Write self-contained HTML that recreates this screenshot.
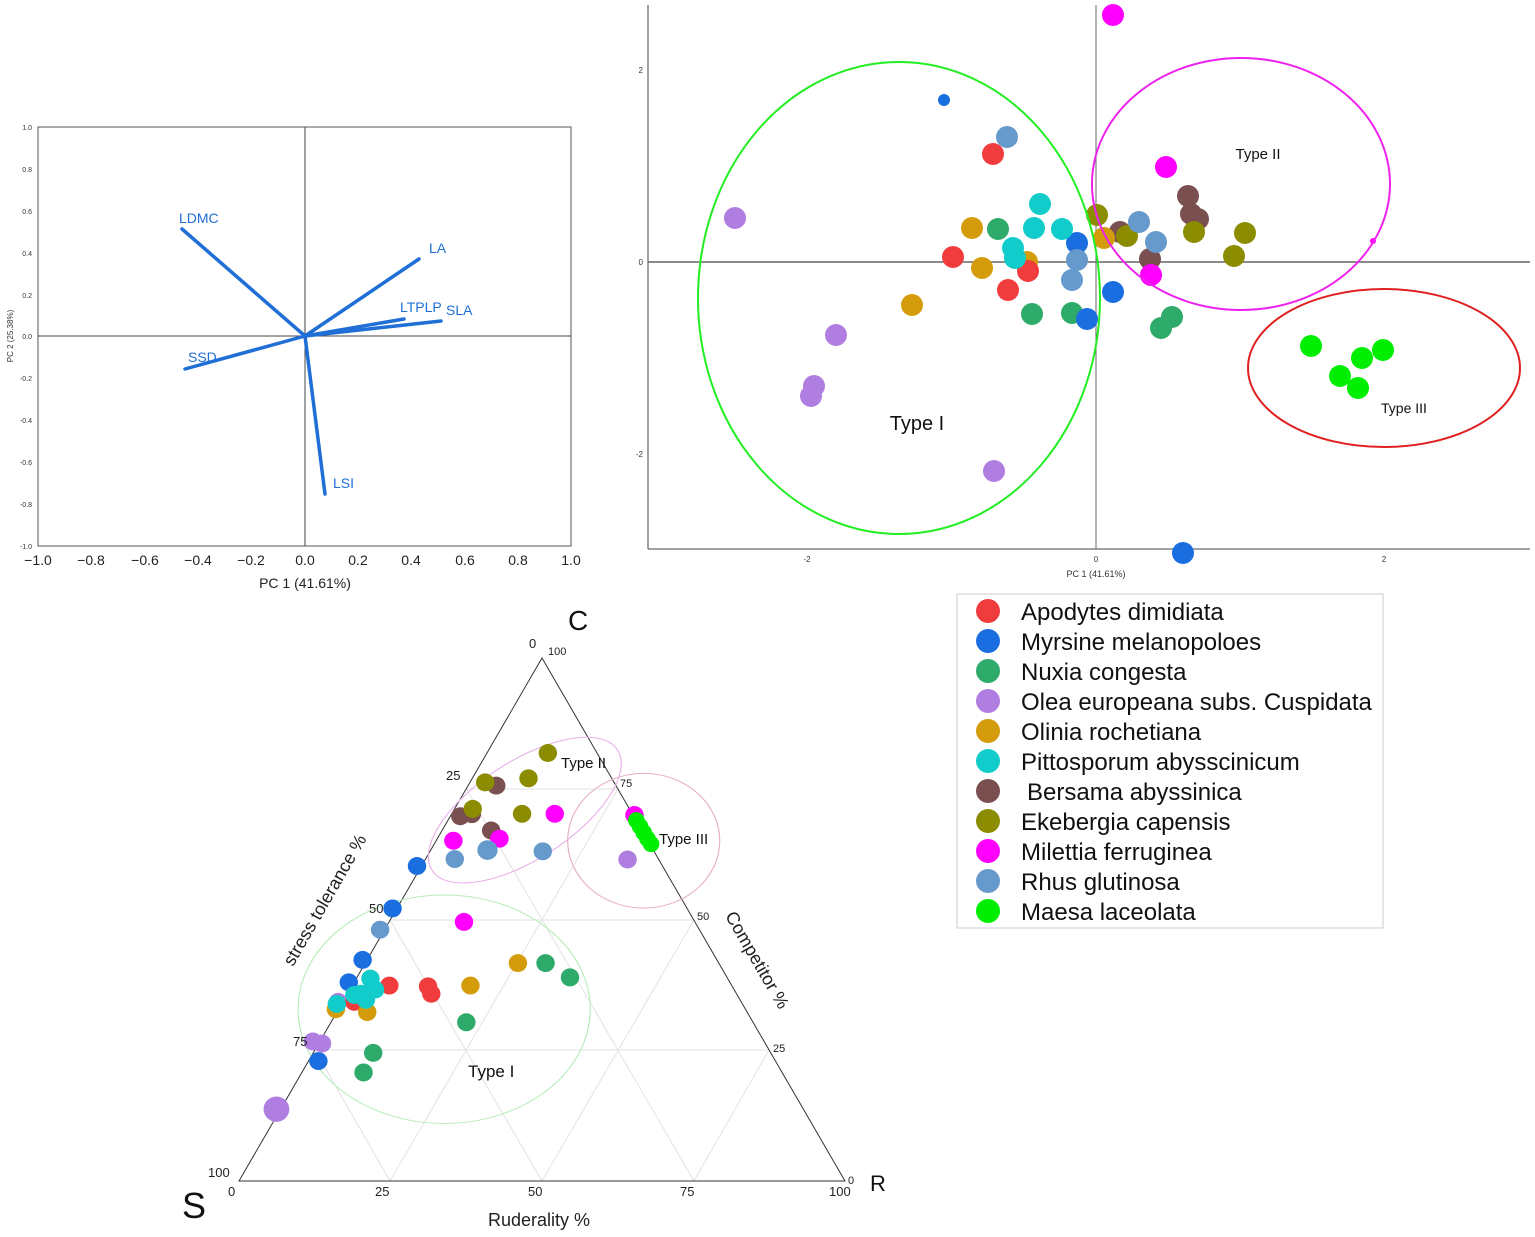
<!DOCTYPE html>
<html><head><meta charset="utf-8"><style>
html,body{margin:0;padding:0;background:#fff;}
svg{display:block;font-family:"Liberation Sans",Arial,sans-serif;}
</style></head><body>
<svg width="1535" height="1237" viewBox="0 0 1535 1237" xmlns="http://www.w3.org/2000/svg">
<g>
<rect x="38" y="127" width="533" height="419" fill="none" stroke="#555" stroke-width="1"/>
<line x1="38" y1="336" x2="571" y2="336" stroke="#444" stroke-width="1"/>
<line x1="305" y1="127" x2="305" y2="546" stroke="#444" stroke-width="1"/>
<g font-size="7" fill="#333" text-anchor="end">
<text x="32" y="130">1.0</text><text x="32" y="172">0.8</text><text x="32" y="214">0.6</text><text x="32" y="256">0.4</text><text x="32" y="298">0.2</text><text x="32" y="339">0.0</text><text x="32" y="381">-0.2</text><text x="32" y="423">-0.4</text><text x="32" y="465">-0.6</text><text x="32" y="507">-0.8</text><text x="32" y="549">-1.0</text>
</g>
<g font-size="14" fill="#222" text-anchor="middle">
<text x="38" y="565">−1.0</text><text x="91" y="565">−0.8</text><text x="145" y="565">−0.6</text><text x="198" y="565">−0.4</text><text x="251" y="565">−0.2</text><text x="305" y="565">0.0</text><text x="358" y="565">0.2</text><text x="411" y="565">0.4</text><text x="465" y="565">0.6</text><text x="518" y="565">0.8</text><text x="571" y="565">1.0</text>
</g>
<text x="305" y="588" font-size="14" fill="#222" text-anchor="middle">PC 1 (41.61%)</text>
<text transform="translate(13,336) rotate(-90)" font-size="8" fill="#333" text-anchor="middle">PC 2 (25.38%)</text>
<g stroke="#1f6fd6" stroke-width="3.5" stroke-linecap="round">
<line x1="305" y1="336" x2="182" y2="229"/>
<line x1="305" y1="336" x2="419" y2="259"/>
<line x1="305" y1="336" x2="404" y2="319"/>
<line x1="305" y1="336" x2="441" y2="321"/>
<line x1="305" y1="336" x2="185" y2="369"/>
<line x1="305" y1="336" x2="325" y2="494"/>
</g>
<g font-size="14" fill="#1f6fd6">
<text x="179" y="223">LDMC</text><text x="429" y="253">LA</text><text x="400" y="312">LTPLP</text><text x="446" y="315">SLA</text><text x="188" y="362">SSD</text><text x="333" y="488">LSI</text>
</g>
</g>
<g>
<line x1="648" y1="5" x2="648" y2="549" stroke="#444"/>
<line x1="648" y1="549" x2="1530" y2="549" stroke="#444"/>
<line x1="1096" y1="5" x2="1096" y2="549" stroke="#666"/>
<line x1="648" y1="262" x2="1530" y2="262" stroke="#666" stroke-width="1.5"/>
<g font-size="8" fill="#333" text-anchor="end"><text x="643" y="73">2</text><text x="643" y="265">0</text><text x="643" y="457">-2</text></g>
<g font-size="8" fill="#333" text-anchor="middle"><text x="807" y="562">-2</text><text x="1096" y="562">0</text><text x="1384" y="562">2</text></g>
<text x="1096" y="577" font-size="9" fill="#333" text-anchor="middle">PC 1 (41.61%)</text>
<g>
<circle cx="1113" cy="15" r="11" fill="#ff00ff"/>
<circle cx="944" cy="100" r="6" fill="#1a6ee0"/>
<circle cx="1007" cy="137" r="11" fill="#6699cc"/>
<circle cx="993" cy="154" r="11" fill="#f03c3c"/>
<circle cx="1166" cy="167" r="11" fill="#ff00ff"/>
<circle cx="735" cy="218" r="11" fill="#b07ee0"/>
<circle cx="1188" cy="196" r="11" fill="#7a4f4f"/>
<circle cx="1191" cy="214" r="11" fill="#7a4f4f"/>
<circle cx="1198" cy="219" r="11" fill="#7a4f4f"/>
<circle cx="1120" cy="232" r="11" fill="#7a4f4f"/>
<circle cx="1150" cy="259" r="11" fill="#7a4f4f"/>
<circle cx="1097" cy="215" r="11" fill="#8c8c00"/>
<circle cx="1194" cy="232" r="11" fill="#8c8c00"/>
<circle cx="1245" cy="233" r="11" fill="#8c8c00"/>
<circle cx="1234" cy="256" r="11" fill="#8c8c00"/>
<circle cx="1127" cy="236" r="11" fill="#8c8c00"/>
<circle cx="1139" cy="222" r="11" fill="#6699cc"/>
<circle cx="1156" cy="242" r="11" fill="#6699cc"/>
<circle cx="972" cy="228" r="11" fill="#d49c0a"/>
<circle cx="1104" cy="238" r="11" fill="#d49c0a"/>
<circle cx="1027" cy="262" r="11" fill="#d49c0a"/>
<circle cx="982" cy="268" r="11" fill="#d49c0a"/>
<circle cx="912" cy="305" r="11" fill="#d49c0a"/>
<circle cx="998" cy="229" r="11" fill="#2eaa6a"/>
<circle cx="1032" cy="314" r="11" fill="#2eaa6a"/>
<circle cx="1072" cy="313" r="11" fill="#2eaa6a"/>
<circle cx="1161" cy="328" r="11" fill="#2eaa6a"/>
<circle cx="1172" cy="317" r="11" fill="#2eaa6a"/>
<circle cx="1077" cy="243" r="11" fill="#1a6ee0"/>
<circle cx="1113" cy="292" r="11" fill="#1a6ee0"/>
<circle cx="1087" cy="319" r="11" fill="#1a6ee0"/>
<circle cx="1183" cy="553" r="11" fill="#1a6ee0"/>
<circle cx="953" cy="257" r="11" fill="#f03c3c"/>
<circle cx="1028" cy="271" r="11" fill="#f03c3c"/>
<circle cx="1008" cy="290" r="11" fill="#f03c3c"/>
<circle cx="1077" cy="260" r="11" fill="#6699cc"/>
<circle cx="1072" cy="280" r="11" fill="#6699cc"/>
<circle cx="1040" cy="204" r="11" fill="#12cccc"/>
<circle cx="1034" cy="228" r="11" fill="#12cccc"/>
<circle cx="1062" cy="229" r="11" fill="#12cccc"/>
<circle cx="1013" cy="248" r="11" fill="#12cccc"/>
<circle cx="1015" cy="258" r="11" fill="#12cccc"/>
<circle cx="1151" cy="275" r="11" fill="#ff00ff"/>
<circle cx="1373" cy="241" r="3" fill="#ff00ff"/>
<circle cx="836" cy="335" r="11" fill="#b07ee0"/>
<circle cx="814" cy="386" r="11" fill="#b07ee0"/>
<circle cx="811" cy="396" r="11" fill="#b07ee0"/>
<circle cx="994" cy="471" r="11" fill="#b07ee0"/>
<circle cx="1311" cy="346" r="11" fill="#00ee00"/>
<circle cx="1362" cy="358" r="11" fill="#00ee00"/>
<circle cx="1383" cy="350" r="11" fill="#00ee00"/>
<circle cx="1340" cy="376" r="11" fill="#00ee00"/>
<circle cx="1358" cy="388" r="11" fill="#00ee00"/>
</g>
<ellipse cx="899" cy="298" rx="201" ry="236" fill="none" stroke="#22ee22" stroke-width="2"/>
<ellipse cx="1241" cy="184" rx="149" ry="126" fill="none" stroke="#ee22ee" stroke-width="2"/>
<ellipse cx="1384" cy="368" rx="136" ry="79" fill="none" stroke="#e02020" stroke-width="2"/>
<text x="917" y="430" font-size="20" fill="#111" text-anchor="middle">Type I</text>
<text x="1258" y="159" font-size="15" fill="#111" text-anchor="middle">Type II</text>
<text x="1404" y="413" font-size="14" fill="#111" text-anchor="middle">Type III</text>
</g>
<rect x="957" y="594" width="426" height="334" fill="#fff" stroke="#ccc"/>
<g font-size="24" fill="#111">
<circle cx="988" cy="611" r="12" fill="#f03c3c"/><text x="1021" y="620">Apodytes dimidiata</text>
<circle cx="988" cy="641" r="12" fill="#1a6ee0"/><text x="1021" y="650">Myrsine melanopoloes</text>
<circle cx="988" cy="671" r="12" fill="#2eaa6a"/><text x="1021" y="680">Nuxia congesta</text>
<circle cx="988" cy="701" r="12" fill="#b07ee0"/><text x="1021" y="710">Olea europeana subs. Cuspidata</text>
<circle cx="988" cy="731" r="12" fill="#d49c0a"/><text x="1021" y="740">Olinia rochetiana</text>
<circle cx="988" cy="761" r="12" fill="#12cccc"/><text x="1021" y="770">Pittosporum abysscinicum</text>
<circle cx="988" cy="791" r="12" fill="#7a4f4f"/><text x="1027" y="800">Bersama abyssinica</text>
<circle cx="988" cy="821" r="12" fill="#8c8c00"/><text x="1021" y="830">Ekebergia capensis</text>
<circle cx="988" cy="851" r="12" fill="#ff00ff"/><text x="1021" y="860">Milettia ferruginea</text>
<circle cx="988" cy="881" r="12" fill="#6699cc"/><text x="1021" y="890">Rhus glutinosa</text>
<circle cx="988" cy="911" r="12" fill="#00ee00"/><text x="1021" y="920">Maesa laceolata</text>
</g>
<g>
<g stroke="#e2e2e2" stroke-width="1">
<line x1="315" y1="1050" x2="769" y2="1050"/>
<line x1="390" y1="920" x2="694" y2="920"/>
<line x1="466" y1="789" x2="618" y2="789"/>
<line x1="390" y1="1181" x2="315" y2="1050"/><line x1="542" y1="1181" x2="390" y2="920"/><line x1="694" y1="1181" x2="466" y2="789"/>
<line x1="390" y1="1181" x2="618" y2="789"/><line x1="542" y1="1181" x2="694" y2="920"/><line x1="694" y1="1181" x2="769" y2="1050"/>
</g>
<polygon points="239,1181 845,1181 542,658" fill="none" stroke="#333" stroke-width="1"/>
<g transform="translate(170,600) scale(0.4608,0.408)">
<ellipse cx="770" cy="515" rx="250" ry="115" transform="rotate(-38 770 515)" fill="none" stroke="#e8b0e8" stroke-width="2.5"/>
<ellipse cx="1028" cy="590" rx="165" ry="165" fill="none" stroke="#e8b0c0" stroke-width="2.5"/>
<ellipse cx="595" cy="1003" rx="317" ry="280" fill="none" stroke="#b8ecb8" stroke-width="2.5"/>
<g>
<ellipse cx="820" cy="375" rx="20" ry="22" fill="#8c8c00"/>
<ellipse cx="778" cy="437" rx="20" ry="22" fill="#8c8c00"/>
<ellipse cx="708" cy="455" rx="20" ry="22" fill="#7a4f4f"/>
<ellipse cx="684" cy="447" rx="20" ry="22" fill="#8c8c00"/>
<ellipse cx="630" cy="530" rx="20" ry="22" fill="#7a4f4f"/>
<ellipse cx="655" cy="525" rx="20" ry="22" fill="#7a4f4f"/>
<ellipse cx="657" cy="512" rx="20" ry="22" fill="#8c8c00"/>
<ellipse cx="764" cy="524" rx="20" ry="22" fill="#8c8c00"/>
<ellipse cx="697" cy="565" rx="20" ry="22" fill="#7a4f4f"/>
<ellipse cx="835" cy="524" rx="20" ry="22" fill="#ff00ff"/>
<ellipse cx="715" cy="585" rx="20" ry="22" fill="#ff00ff"/>
<ellipse cx="615" cy="590" rx="20" ry="22" fill="#ff00ff"/>
<ellipse cx="638" cy="789" rx="20" ry="22" fill="#ff00ff"/>
<ellipse cx="1008" cy="527" rx="20" ry="22" fill="#ff00ff"/>
<ellipse cx="689" cy="613" rx="22" ry="24" fill="#6699cc"/>
<ellipse cx="618" cy="635" rx="20" ry="22" fill="#6699cc"/>
<ellipse cx="809" cy="616" rx="20" ry="22" fill="#6699cc"/>
<ellipse cx="456" cy="808" rx="20" ry="22" fill="#6699cc"/>
<ellipse cx="536" cy="652" rx="20" ry="22" fill="#1a6ee0"/>
<ellipse cx="483" cy="756" rx="20" ry="22" fill="#1a6ee0"/>
<ellipse cx="418" cy="882" rx="20" ry="22" fill="#1a6ee0"/>
<ellipse cx="388" cy="937" rx="20" ry="22" fill="#1a6ee0"/>
<ellipse cx="322" cy="1130" rx="20" ry="22" fill="#1a6ee0"/>
<ellipse cx="993" cy="636" rx="20" ry="22" fill="#b07ee0"/>
<ellipse cx="330" cy="1087" rx="20" ry="22" fill="#b07ee0"/>
<ellipse cx="310" cy="1082" rx="20" ry="22" fill="#b07ee0"/>
<ellipse cx="365" cy="985" rx="20" ry="22" fill="#b07ee0"/>
<ellipse cx="231" cy="1248" rx="28" ry="31" fill="#b07ee0"/>
<ellipse cx="1012" cy="540" rx="18" ry="20" fill="#00ee00"/>
<ellipse cx="1020" cy="555" rx="18" ry="20" fill="#00ee00"/>
<ellipse cx="1028" cy="570" rx="18" ry="20" fill="#00ee00"/>
<ellipse cx="1036" cy="585" rx="18" ry="20" fill="#00ee00"/>
<ellipse cx="1044" cy="598" rx="18" ry="20" fill="#00ee00"/>
<ellipse cx="476" cy="945" rx="20" ry="22" fill="#f03c3c"/>
<ellipse cx="560" cy="947" rx="20" ry="22" fill="#f03c3c"/>
<ellipse cx="567" cy="965" rx="20" ry="22" fill="#f03c3c"/>
<ellipse cx="400" cy="985" rx="20" ry="22" fill="#f03c3c"/>
<ellipse cx="755" cy="890" rx="20" ry="22" fill="#d49c0a"/>
<ellipse cx="652" cy="945" rx="20" ry="22" fill="#d49c0a"/>
<ellipse cx="428" cy="1010" rx="20" ry="22" fill="#d49c0a"/>
<ellipse cx="360" cy="1003" rx="20" ry="22" fill="#d49c0a"/>
<ellipse cx="815" cy="890" rx="20" ry="22" fill="#2eaa6a"/>
<ellipse cx="868" cy="925" rx="20" ry="22" fill="#2eaa6a"/>
<ellipse cx="643" cy="1035" rx="20" ry="22" fill="#2eaa6a"/>
<ellipse cx="441" cy="1110" rx="20" ry="22" fill="#2eaa6a"/>
<ellipse cx="420" cy="1158" rx="20" ry="22" fill="#2eaa6a"/>
<ellipse cx="435" cy="928" rx="20" ry="22" fill="#12cccc"/>
<ellipse cx="445" cy="955" rx="20" ry="22" fill="#12cccc"/>
<ellipse cx="415" cy="965" rx="20" ry="22" fill="#12cccc"/>
<ellipse cx="425" cy="980" rx="20" ry="22" fill="#12cccc"/>
<ellipse cx="400" cy="968" rx="20" ry="22" fill="#12cccc"/>
<ellipse cx="362" cy="990" rx="20" ry="22" fill="#12cccc"/>
</g>
</g>
<g font-size="13" fill="#222">
<text x="529" y="648">0</text><text x="548" y="655" font-size="11">100</text>
<text x="446" y="780">25</text><text x="369" y="913">50</text><text x="293" y="1046">75</text><text x="208" y="1177">100</text>
<text x="228" y="1196">0</text><text x="375" y="1196">25</text><text x="528" y="1196">50</text><text x="680" y="1196">75</text><text x="829" y="1196">100</text>
<text x="620" y="787" font-size="11">75</text><text x="697" y="920" font-size="11">50</text><text x="773" y="1052" font-size="11">25</text><text x="848" y="1184" font-size="11">0</text>
</g>
<text x="568" y="630" font-size="28" fill="#111">C</text>
<text x="182" y="1218" font-size="36" fill="#111">S</text>
<text x="870" y="1191" font-size="22" fill="#111">R</text>
<text x="539" y="1226" font-size="18" fill="#222" text-anchor="middle">Ruderality %</text>
<text transform="translate(330,903) rotate(-60)" font-size="18" fill="#222" text-anchor="middle">stress tolerance %</text>
<text transform="translate(752,963) rotate(60)" font-size="18" fill="#222" text-anchor="middle">Competitor %</text>
<text x="561" y="768" font-size="15" fill="#111">Type II</text>
<text x="659" y="844" font-size="15" fill="#111">Type III</text>
<text x="468" y="1077" font-size="17" fill="#111">Type I</text>
</g>
</svg>
</body></html>
